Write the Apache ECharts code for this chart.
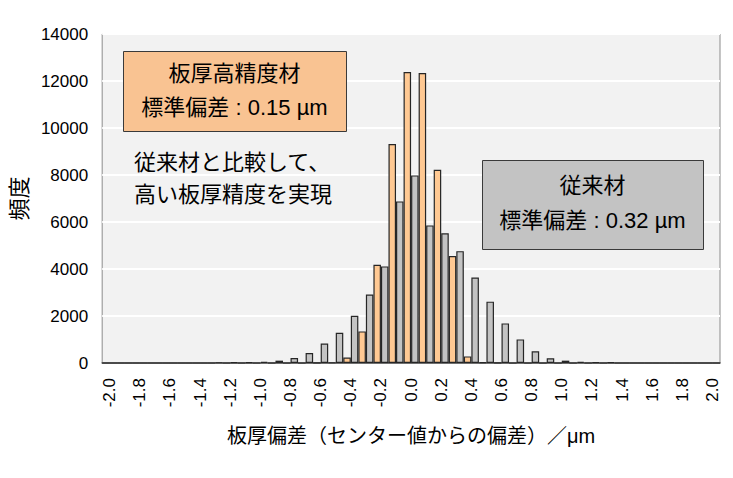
<!DOCTYPE html>
<html>
<head>
<meta charset="utf-8">
<script src="https://cdn.jsdelivr.net/npm/echarts@6/dist/echarts.min.js"></script>
<style>
  html, body { margin: 0; padding: 0; background: #fff; }
  #chart { width: 733px; height: 478px; }
</style>
</head>
<body>
<div id="chart"></div>
<script>
// bins of plate thickness deviation (µm), 0.1 wide
var bins = ['-2.0','-1.9','-1.8','-1.7','-1.6','-1.5','-1.4','-1.3','-1.2','-1.1',
            '-1.0','-0.9','-0.8','-0.7','-0.6','-0.5','-0.4','-0.3','-0.2','-0.1',
            '0.0','0.1','0.2','0.3','0.4','0.5','0.6','0.7','0.8','0.9',
            '1.0','1.1','1.2','1.3','1.4','1.5','1.6','1.7','1.8','1.9','2.0'];
// high-precision material
var highPrecision = [0,0,0,0,0,0,0,0,0,0,
                     0,0,0,0,5,20,230,1345,4180,9320,
                     12380,12340,8225,4550,280,40,10,0,0,0,
                     0,0,0,0,0,0,0,0,0,0,0];
// conventional material
var conventional = [0,0,0,0,0,0,0,20,30,30,
                    50,100,210,425,826,1290,2010,2910,4110,6876,
                    7982,5855,5520,4760,3640,2610,1685,1005,495,200,
                    100,50,30,30,0,0,0,0,0,0,0];

var font = "'Liberation Sans', 'Noto Sans CJK JP', sans-serif";
var chart = echarts.init(document.getElementById('chart'), null, { renderer: 'svg' });
chart.setOption({
  animation: false,
  textStyle: { fontFamily: font },
  grid: {
    left: 102, right: 13, top: 34, bottom: 115,
    show: true, backgroundColor: '#f2f2f2', borderColor: '#8c8c8c', borderWidth: 1
  },
  xAxis: {
    type: 'category',
    data: bins,
    name: '板厚偏差（センター値からの偏差）／μm',
    nameLocation: 'middle',
    nameGap: 63,
    nameTextStyle: { color: '#000', fontSize: 20, fontFamily: font },
    axisLine: { lineStyle: { color: '#404040', width: 1.5 } },
    axisTick: { show: false },
    axisLabel: { interval: 1, rotate: 90, margin: 15, color: '#000', fontSize: 17, fontFamily: font }
  },
  yAxis: {
    type: 'value',
    min: 0, max: 14000, interval: 2000,
    name: '頻度',
    nameLocation: 'middle',
    nameGap: 52,
    nameRotate: 90,
    nameTextStyle: { color: '#000', fontSize: 22, fontFamily: font },
    axisLine: { show: false },
    axisTick: { show: false },
    axisLabel: { color: '#000', fontSize: 17, margin: 14, fontFamily: font,
                 formatter: function (v) { return String(v); } },
    splitLine: { lineStyle: { color: '#ffffff', width: 2 } }
  },
  series: [
    {
      type: 'bar', name: '板厚高精度材', data: highPrecision,
      barGap: '0%', barCategoryGap: '0%',
      itemStyle: { color: '#ffc993', borderColor: '#262626', borderWidth: 1.2 }
    },
    {
      type: 'bar', name: '従来材', data: conventional,
      barGap: '0%', barCategoryGap: '0%',
      itemStyle: { color: '#c3c3c3', borderColor: '#262626', borderWidth: 1.2 }
    }
  ],
  graphic: [
    {
      type: 'group', left: 123, top: 51, z: 100,
      children: [
        { type: 'rect', z: 100, shape: { x: 0, y: 0, width: 223, height: 80 },
          style: { fill: '#f9c392', stroke: '#3a3a3a', lineWidth: 1 } },
        { type: 'text', z: 101, x: 111, y: 22,
          style: { text: '板厚高精度材', font: '22px ' + font, fill: '#000', align: 'center', verticalAlign: 'middle' } },
        { type: 'text', z: 101, x: 111, y: 56,
          style: { text: '標準偏差 : 0.15 µm', font: '22px ' + font, fill: '#000', align: 'center', verticalAlign: 'middle' } }
      ]
    },
    {
      type: 'text', left: 134, top: 146, z: 100,
      style: { text: '従来材と比較して、\n高い板厚精度を実現', font: '22px ' + font, lineHeight: 32, fill: '#000' }
    },
    {
      type: 'group', left: 482, top: 160, z: 100,
      children: [
        { type: 'rect', z: 100, shape: { x: 0, y: 0, width: 221, height: 89 },
          style: { fill: '#c3c3c3', stroke: '#3a3a3a', lineWidth: 1 } },
        { type: 'text', z: 101, x: 110, y: 25,
          style: { text: '従来材', font: '22px ' + font, fill: '#000', align: 'center', verticalAlign: 'middle' } },
        { type: 'text', z: 101, x: 110, y: 60,
          style: { text: '標準偏差 : 0.32 µm', font: '22px ' + font, fill: '#000', align: 'center', verticalAlign: 'middle' } }
      ]
    }
  ]
});
window.addEventListener('resize', function () { chart.resize(); });
</script>
</body>
</html>
